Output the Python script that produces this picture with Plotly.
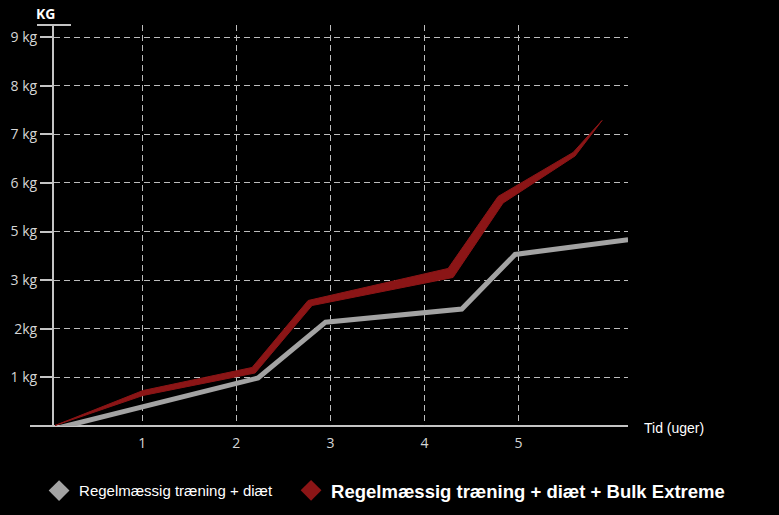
import plotly.graph_objects as go

# --- data ---
# gray series: regular training + diet (centre line)
gray_x = [0.124, 2.231, 2.949, 4.398, 4.965, 6.167]
gray_y = [-0.03, 0.988, 2.136, 2.407, 3.529, 3.831]

# red series: with Bulk Extreme, drawn as a band (upper and lower edge)
red_upper_x = [0.071, 1.007, 2.167, 2.763, 4.252, 4.784, 5.582, 5.890]
red_upper_y = [0.01, 0.730, 1.204, 2.582, 3.241, 4.722, 5.628, 6.286]
red_lower_x = [0.071, 1.007, 2.199, 2.805, 4.305, 4.837, 5.603, 5.890]
red_lower_y = [0.01, 0.628, 1.091, 2.479, 3.056, 4.588, 5.556, 6.286]

x_ticks = [1, 2, 3, 4, 5]
y_tick_vals = [1, 2, 3, 4, 5, 6, 7, 8]
y_tick_text = ["1 kg", "2kg", "3 kg", "5 kg", "6 kg", "7 kg", "8 kg", "9 kg"]

name_gray = "Regelmæssig træning + diæt"
name_red = "Regelmæssig træning + diæt + Bulk Extreme"

GRAY = "#a3a3a3"
RED = "#8b1516"
AXIS = "#c4c4c4"
GRID = "#bdbdbd"
LABEL = "#d6d6d6"

fig = go.Figure()

fig.add_trace(go.Scatter(x=gray_x, y=gray_y, mode="lines",
                         line=dict(color=GRAY, width=5),
                         showlegend=False, hoverinfo="skip"))

fig.add_trace(go.Scatter(x=red_upper_x + red_lower_x[::-1],
                         y=red_upper_y + red_lower_y[::-1],
                         mode="lines", fill="toself", fillcolor=RED,
                         line=dict(color=RED, width=1),
                         showlegend=False, hoverinfo="skip"))

# legend entries (diamonds only), one legend each so they sit on one row
fig.add_trace(go.Scatter(x=[None], y=[None], mode="markers", name=name_gray,
                         marker=dict(symbol="diamond", size=16, color=GRAY),
                         legend="legend"))
fig.add_trace(go.Scatter(x=[None], y=[None], mode="markers", name=name_red,
                         marker=dict(symbol="diamond", size=16, color=RED),
                         legend="legend2"))

fig.update_layout(
    width=779, height=515,
    margin=dict(l=54, r=151, t=25, b=89, autoexpand=False),
    paper_bgcolor="black", plot_bgcolor="black",
    font=dict(family="Open Sans", size=14, color=LABEL),
    xaxis=dict(range=[0.06, 6.166], tickvals=x_ticks, showgrid=True,
               gridcolor=GRID, gridwidth=1, griddash="6px,4px",
               zeroline=False, showline=False,
               ticks="outside", ticklen=4, tickcolor="rgba(0,0,0,0)",
               tickfont=dict(family="Open Sans", size=14, color=LABEL)),
    yaxis=dict(range=[0, 8.25], tickvals=y_tick_vals, ticktext=y_tick_text,
               showgrid=True, gridcolor=GRID, gridwidth=1, griddash="6px,4px",
               zeroline=False, showline=True, linecolor=AXIS, linewidth=2,
               ticks="outside", ticklen=12, tickwidth=2, tickcolor=AXIS,
               tickfont=dict(family="Open Sans", size=14, color=LABEL)),
    legend=dict(x=-0.026, xanchor="left", yref="container", y=0.047, yanchor="middle",
                font=dict(family="Liberation Sans Narrow, Liberation Sans", size=15, color="white"),
                bgcolor="rgba(0,0,0,0)"),
    legend2=dict(x=0.413, xanchor="left", yref="container", y=0.047, yanchor="middle",
                 font=dict(family="Liberation Sans", size=18.5, color="white", weight="bold"),
                 bgcolor="rgba(0,0,0,0)"),
    shapes=[
        # x axis line, running a little left of the y axis
        dict(type="line", xref="paper", yref="paper", x0=-0.0418, x1=1, y0=0, y1=0,
             line=dict(color=AXIS, width=2), layer="below"),
        # cap on top of the y axis
        dict(type="line", xref="paper", yref="paper", x0=-0.0296, x1=0.0296, y0=1, y1=1,
             line=dict(color=AXIS, width=2)),
    ],
    annotations=[
        dict(text="<b>KG</b>", xref="paper", yref="paper", x=-0.014, y=1,
             xanchor="center", yanchor="bottom", yshift=0, showarrow=False,
             font=dict(family="Open Sans", size=14, color="white")),
        dict(text="Tid (uger)", xref="paper", yref="paper", x=1, y=0,
             xanchor="left", yanchor="middle", xshift=14, yshift=-2, showarrow=False,
             font=dict(family="Liberation Sans", size=14, color="white")),
    ],
)

fig.write_html("out.html", config={"displayModeBar": False},
               post_script="document.body.style.margin='0';document.body.style.background='black';")
